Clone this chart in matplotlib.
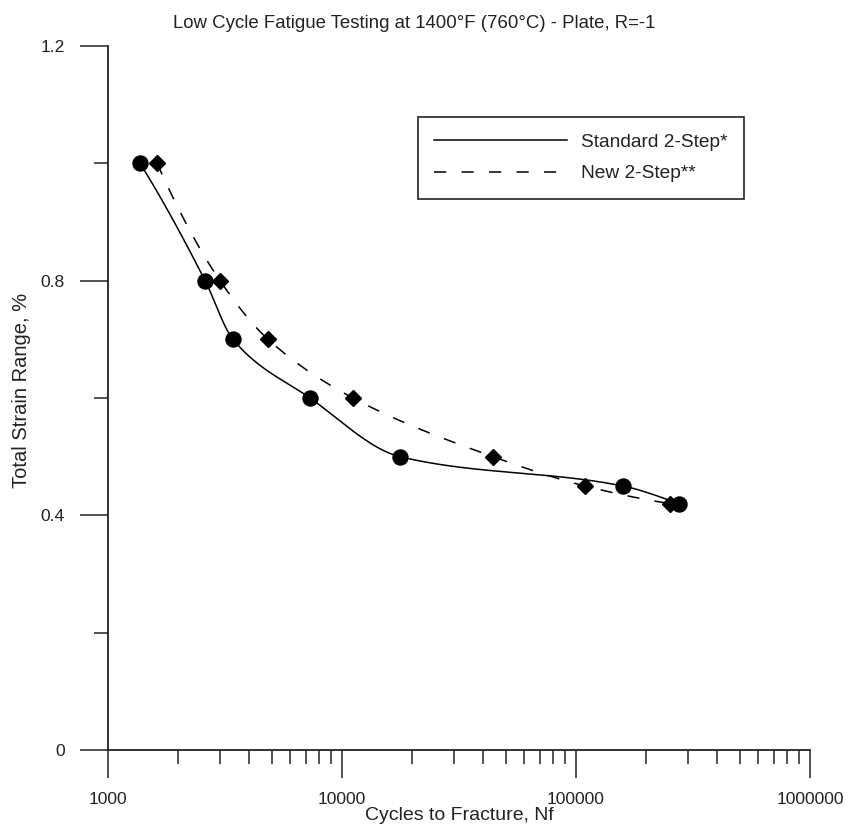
import numpy as np
import matplotlib
matplotlib.use("Agg")
import matplotlib.pyplot as plt
from matplotlib.lines import Line2D
from matplotlib.ticker import LogLocator, FixedLocator, NullFormatter

plt.rcParams['font.family'] = ['Liberation Sans', 'DejaVu Sans']

title = "Low Cycle Fatigue Testing at 1400°F (760°C) - Plate, R=-1"
xlabel = "Cycles to Fracture, Nf"
ylabel = "Total Strain Range, %"
series_names = ["Standard 2-Step*", "New 2-Step**"]

std_cycles = [1370, 2600, 3420, 7300, 17700, 158700, 275000]
std_strain = [1.0, 0.8, 0.7, 0.6, 0.5, 0.45, 0.42]
new_cycles = [1620, 3010, 4830, 11140, 44200, 109200, 252000]
new_strain = [1.0, 0.8, 0.7, 0.6, 0.5, 0.45, 0.42]

xticks = [1000, 10000, 100000, 1000000]
xticklabels = ["1000", "10000", "100000", "1000000"]
yticks = [0, 0.4, 0.8, 1.2]
yticklabels = ["0", "0.4", "0.8", "1.2"]
yminor = [0.2, 0.6, 1.0]


def pchip_logx(x, y, n=60):
    """Monotone cubic (Fritsch-Carlson / PCHIP) through the points, in log10(x)."""
    lx = np.log10(np.asarray(x, float))
    yy = np.asarray(y, float)
    h = np.diff(lx)
    d = np.diff(yy) / h
    m = np.zeros_like(yy)
    for k in range(1, len(yy) - 1):
        if d[k - 1] * d[k] <= 0:
            m[k] = 0.0
        else:
            w1 = 2 * h[k] + h[k - 1]
            w2 = h[k] + 2 * h[k - 1]
            m[k] = (w1 + w2) / (w1 / d[k - 1] + w2 / d[k])

    def end_slope(h0, h1, d0, d1):
        s = ((2 * h0 + h1) * d0 - h0 * d1) / (h0 + h1)
        if np.sign(s) != np.sign(d0):
            s = 0.0
        elif np.sign(d0) != np.sign(d1) and abs(s) > abs(3 * d0):
            s = 3 * d0
        return s

    m[0] = end_slope(h[0], h[1], d[0], d[1])
    m[-1] = end_slope(h[-1], h[-2], d[-1], d[-2])
    xs, ys = [], []
    for k in range(len(h)):
        t = np.linspace(0, 1, n)
        h00 = 2 * t ** 3 - 3 * t ** 2 + 1
        h10 = t ** 3 - 2 * t ** 2 + t
        h01 = -2 * t ** 3 + 3 * t ** 2
        h11 = t ** 3 - t ** 2
        seg = h00 * yy[k] + h10 * h[k] * m[k] + h01 * yy[k + 1] + h11 * h[k] * m[k + 1]
        xs.append(lx[k] + t * h[k])
        ys.append(seg)
    return 10 ** np.concatenate(xs), np.concatenate(ys)


fig = plt.figure(figsize=(8.49, 8.35), dpi=100)
ax = fig.add_axes([108 / 849, 1 - 750 / 835, (810 - 108) / 849, (750 - 46) / 835])
ax.set_xscale('log')
ax.set_xlim(1000, 1000000)
ax.set_ylim(0, 1.2)

dash = (0, (8.0, 10.0))
sx, sy = pchip_logx(std_cycles, std_strain)
nx, ny = pchip_logx(new_cycles, new_strain)
ax.plot(sx, sy, color='black', lw=1.1, ls='-')
ax.plot(nx, ny, color='black', lw=1.1, ls=dash)
ax.plot(std_cycles, std_strain, ls='none', marker='o', ms=10.8, color='black')
ax.plot(new_cycles, new_strain, ls='none', marker='D', ms=8.3, color='black')

for s in ['top', 'right']:
    ax.spines[s].set_visible(False)
for s in ['left', 'bottom']:
    ax.spines[s].set_color('#222222')
    ax.spines[s].set_linewidth(1.3)

ax.xaxis.set_major_locator(FixedLocator(xticks))
ax.set_xticklabels(xticklabels)
ax.xaxis.set_minor_locator(LogLocator(base=10, subs=np.arange(2, 10)))
ax.xaxis.set_minor_formatter(NullFormatter())
ax.yaxis.set_major_locator(FixedLocator(yticks))
ax.set_yticklabels(yticklabels)
ax.yaxis.set_minor_locator(FixedLocator(yminor))

ax.tick_params(which='major', direction='out', length=20, width=1.3, color='#444444',
               labelsize=12.6, labelcolor='#222222')
ax.tick_params(which='minor', direction='out', length=10, width=1.3, color='#444444')
ax.tick_params(axis='x', which='major', pad=10)
ax.tick_params(axis='y', which='major', pad=11)

ax.set_xlabel(xlabel, fontsize=14, color='#222222', labelpad=0)
ax.set_ylabel(ylabel, fontsize=14.5, color='#222222')
ax.yaxis.set_label_coords(-(108 - 22) / 702, (750 - 390) / 704)
ax.yaxis.label.set_va('center')
fig.text(414 / 849, 1 - 28 / 835, title, ha='center', va='baseline', fontsize=13.4,
         color='#222222')

handles = [Line2D([], [], color='black', lw=1.1, ls='-'),
           Line2D([], [], color='black', lw=1.1, ls=dash)]
leg = ax.legend(handles, series_names, loc='upper left',
                bbox_to_anchor=((418 - 108) / 702, (750 - 117) / 704),
                frameon=True, fancybox=False, fontsize=13.8, handlelength=6.9,
                handletextpad=0.75, borderpad=0.85, labelspacing=0.75, borderaxespad=0)
leg.get_frame().set_edgecolor('#222222')
leg.get_frame().set_linewidth(1.2)
leg.get_frame().set_alpha(1)
for t in leg.get_texts():
    t.set_color('#222222')

fig.savefig('out.png', dpi=100)
